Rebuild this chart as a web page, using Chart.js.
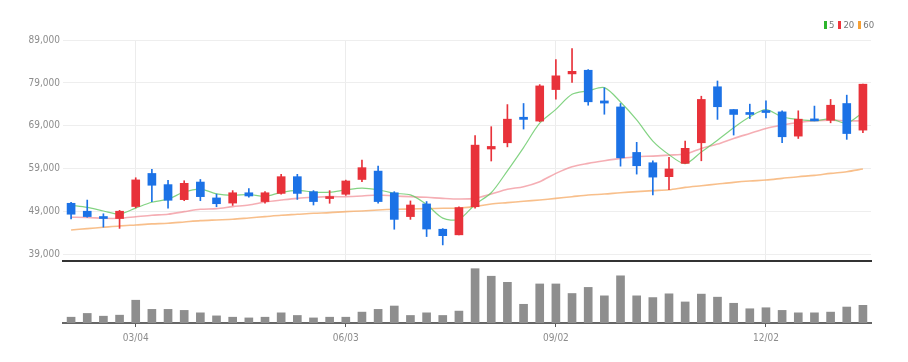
<!DOCTYPE html>
<html>
<head>
<meta charset="utf-8">
<script src="https://cdn.jsdelivr.net/npm/chart.js@4.4.1/dist/chart.umd.min.js"></script>
<style>
  body { margin: 0; background: #fff; }
  #wrap { position: relative; width: 908px; height: 362px; overflow: hidden; }
  #priceBox { position: absolute; left: 0; top: 0; width: 908px; height: 270px; }
  #volBox { position: absolute; left: 0; top: 262px; width: 908px; height: 100px; }
  #legend { position: absolute; left: 824px; top: 19px; display: flex; align-items: center;
            font: 9.5px 'Liberation Sans Narrow', 'DejaVu Sans Condensed', sans-serif; color: #777; }
  #legend i { display: inline-block; width: 3px; height: 8px; margin-right: 2px; }
  #legend span { margin-right: 4px; }
</style>
</head>
<body>
<div id="wrap">
  <div id="priceBox"><canvas id="priceChart"></canvas></div>
  <div id="volBox"><canvas id="volChart"></canvas></div>
  <div id="legend"></div>
</div>
<script>
// weekly candles
const dates = ["02/05", "02/12", "02/19", "02/26", "03/04", "03/11", "03/18", "03/25", "04/01", "04/08",
  "04/15", "04/22", "04/29", "05/06", "05/13", "05/20", "05/27", "06/03", "06/10", "06/17",
  "06/24", "07/01", "07/08", "07/15", "07/22", "07/29", "08/05", "08/12", "08/19", "08/26",
  "09/02", "09/09", "09/16", "09/23", "09/30", "10/07", "10/14", "10/21", "10/28", "11/04",
  "11/11", "11/18", "11/25", "12/02", "12/09", "12/16", "12/23", "12/30", "01/06", "01/13"];
const shownDates = ["03/04", "06/03", "09/02", "12/02"];
const priceTicks = [39000, 49000, 59000, 69000, 79000, 89000];

const opens = [50950, 49100, 47700, 47400, 50200, 57900, 55300, 51800, 55900, 52200,
  51000, 53400, 51350, 53250, 57150, 53650, 52050, 53050, 56500, 58450,
  53400, 47850, 50800, 44900, 43600, 50150, 63600, 65050, 71000, 70100,
  77450, 81100, 81950, 74800, 73400, 62800, 60400, 57150, 60250, 65050,
  78100, 72800, 72100, 72550, 72250, 66600, 70550, 70300, 74200, 68000];
const closes = [48400, 47850, 47400, 49100, 56400, 55150, 51650, 55600, 52500, 50850,
  53400, 52650, 53400, 57150, 53250, 51350, 52500, 56150, 59250, 51350,
  47200, 50550, 44950, 43400, 49950, 64500, 64200, 70550, 70500, 78300,
  80650, 81700, 74600, 74300, 61550, 59700, 57050, 58950, 63750, 75150,
  73450, 71650, 71650, 72100, 66450, 70550, 70150, 73800, 67200, 78700];
const highs = [51200, 51700, 48500, 49300, 56900, 58850, 56300, 56200, 56500, 53100,
  53900, 54400, 53700, 57700, 57700, 53900, 53900, 56350, 61000, 59600,
  53650, 51500, 51350, 45050, 50150, 66700, 68800, 73950, 74200, 78600,
  84450, 87000, 82100, 77850, 74200, 65150, 60850, 61650, 65450, 75900,
  79450, 72800, 74050, 74800, 72500, 72500, 73600, 75150, 76150, 78700];
const lows = [47300, 47700, 45400, 45100, 49900, 51350, 49800, 51550, 51550, 50150,
  50450, 52350, 51000, 53050, 51850, 50550, 50950, 52800, 56000, 50950,
  44900, 47200, 43200, 41250, 43600, 49800, 60800, 64100, 68250, 69950,
  75200, 79100, 73800, 71700, 59600, 57750, 52900, 54150, 60250, 60850,
  70500, 66850, 70700, 70850, 65050, 66050, 70150, 69700, 65850, 67400];

// moving averages
const ma5 = [50480, 50010, 49160, 48460, 49830, 51180, 51930, 53570, 54250, 53150,
  52800, 53000, 52570, 53500, 53980, 53560, 53530, 54070, 54490, 54100,
  53280, 52900, 50660, 47500, 47220, 50680, 53410, 58520, 63940, 69610,
  72840, 76340, 77150, 77910, 74560, 70370, 65440, 62290, 60180, 62900,
  65640, 68560, 71120, 72790, 71050, 70480, 70190, 70620, 69640, 72090];
const ma20 = [47700, 47650, 47450, 47450, 47800, 48150, 48400, 49000, 49550, 49700,
  50170, 50550, 51250, 51700, 52100, 52340, 52490, 52490, 52650, 52880,
  52650, 52490, 52340, 52100, 51950, 52100, 53110, 54200, 54820, 55980,
  57920, 59470, 60250, 60870, 61410, 61800, 61950, 62180, 62420, 63740,
  64740, 66060, 67220, 68390, 69160, 69780, 70170, 70330, 70170, 70170];
const ma60 = [44740, 45050, 45360, 45670, 45900, 46140, 46290, 46600, 46910, 47070,
  47220, 47530, 47840, 48150, 48380, 48620, 48770, 49000, 49160, 49390,
  49550, 49620, 49700, 49780, 49860, 50170, 50790, 51100, 51410, 51720,
  52100, 52490, 52880, 53110, 53420, 53660, 53890, 54100, 54660, 55050,
  55440, 55830, 56140, 56370, 56760, 57150, 57450, 57920, 58310, 58930];

const volumes = [57000, 94000, 67000, 77000, 224000, 134000, 134000, 124000, 100000, 70000,
  57000, 50000, 57000, 100000, 74000, 50000, 57000, 57000, 107000, 134000,
  167000, 74000, 100000, 74000, 117000, 534000, 460000, 400000, 184000, 384000,
  384000, 290000, 350000, 267000, 464000, 267000, 250000, 287000, 207000, 284000,
  254000, 194000, 140000, 150000, 124000, 100000, 100000, 107000, 157000, 174000];

const fontFamily = "'Liberation Sans Narrow', 'DejaVu Sans Condensed', sans-serif";
const labelColor = "#8c8c8c";
const upColor = "#e8323a";
const downColor = "#1c72e6";
const candleColors = opens.map((o, i) => closes[i] >= o ? upColor : downColor);

const maLines = [
  { label: "5", data: ma5, line: "rgba(100, 200, 100, 0.8)", key: "#2db52d" },
  { label: "20", data: ma20, line: "rgba(240, 130, 140, 0.65)", key: "#f0343c" },
  { label: "60", data: ma60, line: "rgba(246, 170, 100, 0.75)", key: "#f7a135" },
];

// legend
const legendEl = document.getElementById("legend");
maLines.forEach(m => {
  legendEl.innerHTML += `<i style="background:${m.key}"></i><span>${m.label}</span>`;
});

const isShown = i => shownDates.includes(dates[i]);

// price chart
const priceCtx = document.getElementById("priceChart").getContext("2d");
new Chart(priceCtx, {
  type: "bar",
  data: {
    labels: dates,
    datasets: [
      ...maLines.map(m => ({
        type: "line",
        label: m.label,
        data: m.data,
        borderColor: m.line,
        borderWidth: m.label === "5" ? 1.2 : 1.6,
        pointRadius: 0,
        tension: 0.3,
        order: 2,
      })),
      {
        label: "wick",
        data: dates.map((d, i) => [lows[i], highs[i]]),
        backgroundColor: candleColors,
        barThickness: 1,
        grouped: false,
        order: 1,
      },
      {
        label: "body",
        data: dates.map((d, i) => [opens[i], closes[i]]),
        backgroundColor: candleColors,
        barThickness: 8,
        minBarLength: 2,
        grouped: false,
        order: 0,
      },
    ],
  },
  options: {
    responsive: true,
    maintainAspectRatio: false,
    animation: false,
    layout: { padding: { top: 40, right: 37, bottom: 2, left: 0 } },
    plugins: { legend: { display: false }, tooltip: { enabled: false } },
    scales: {
      x: {
        offset: true,
        grid: {
          offset: false,
          drawTicks: false,
          color: ctx => isShown(ctx.index) ? "#ececec" : "rgba(0,0,0,0)",
        },
        ticks: { display: false, autoSkip: false },
        border: { color: "#333", width: 2 },
      },
      y: {
        min: 37500,
        max: 89000,
        afterBuildTicks: axis => { axis.ticks = priceTicks.map(v => ({ value: v })); },
        afterFit: axis => { axis.width = 63; },
        grid: { color: "#eeeeee", drawTicks: false },
        border: { display: false },
        ticks: {
          padding: 3,
          color: labelColor,
          font: { family: fontFamily, size: 10 },
          callback: v => v.toLocaleString("en-US"),
        },
      },
    },
  },
});

// volume chart
const volCtx = document.getElementById("volChart").getContext("2d");
new Chart(volCtx, {
  type: "bar",
  data: {
    labels: dates,
    datasets: [{
      label: "volume",
      data: volumes,
      backgroundColor: "#8e8e8e",
      barThickness: 8,
    }],
  },
  options: {
    responsive: true,
    maintainAspectRatio: false,
    animation: false,
    layout: { padding: { top: 1, right: 37, bottom: 13, left: 63 } },
    plugins: { legend: { display: false }, tooltip: { enabled: false } },
    scales: {
      x: {
        offset: true,
        grid: {
          offset: false,
          drawOnChartArea: false,
          drawTicks: true,
          tickLength: 4,
          tickColor: ctx => isShown(ctx.index) ? "#555" : "rgba(0,0,0,0)",
        },
        border: { color: "#666", width: 2 },
        ticks: {
          autoSkip: false,
          maxRotation: 0,
          padding: 5,
          color: labelColor,
          font: { family: fontFamily, size: 10 },
          callback: (v, i) => isShown(i) ? dates[i] : "",
        },
      },
      y: { display: false, min: 0, max: 590000 },
    },
  },
});
</script>
</body>
</html>
